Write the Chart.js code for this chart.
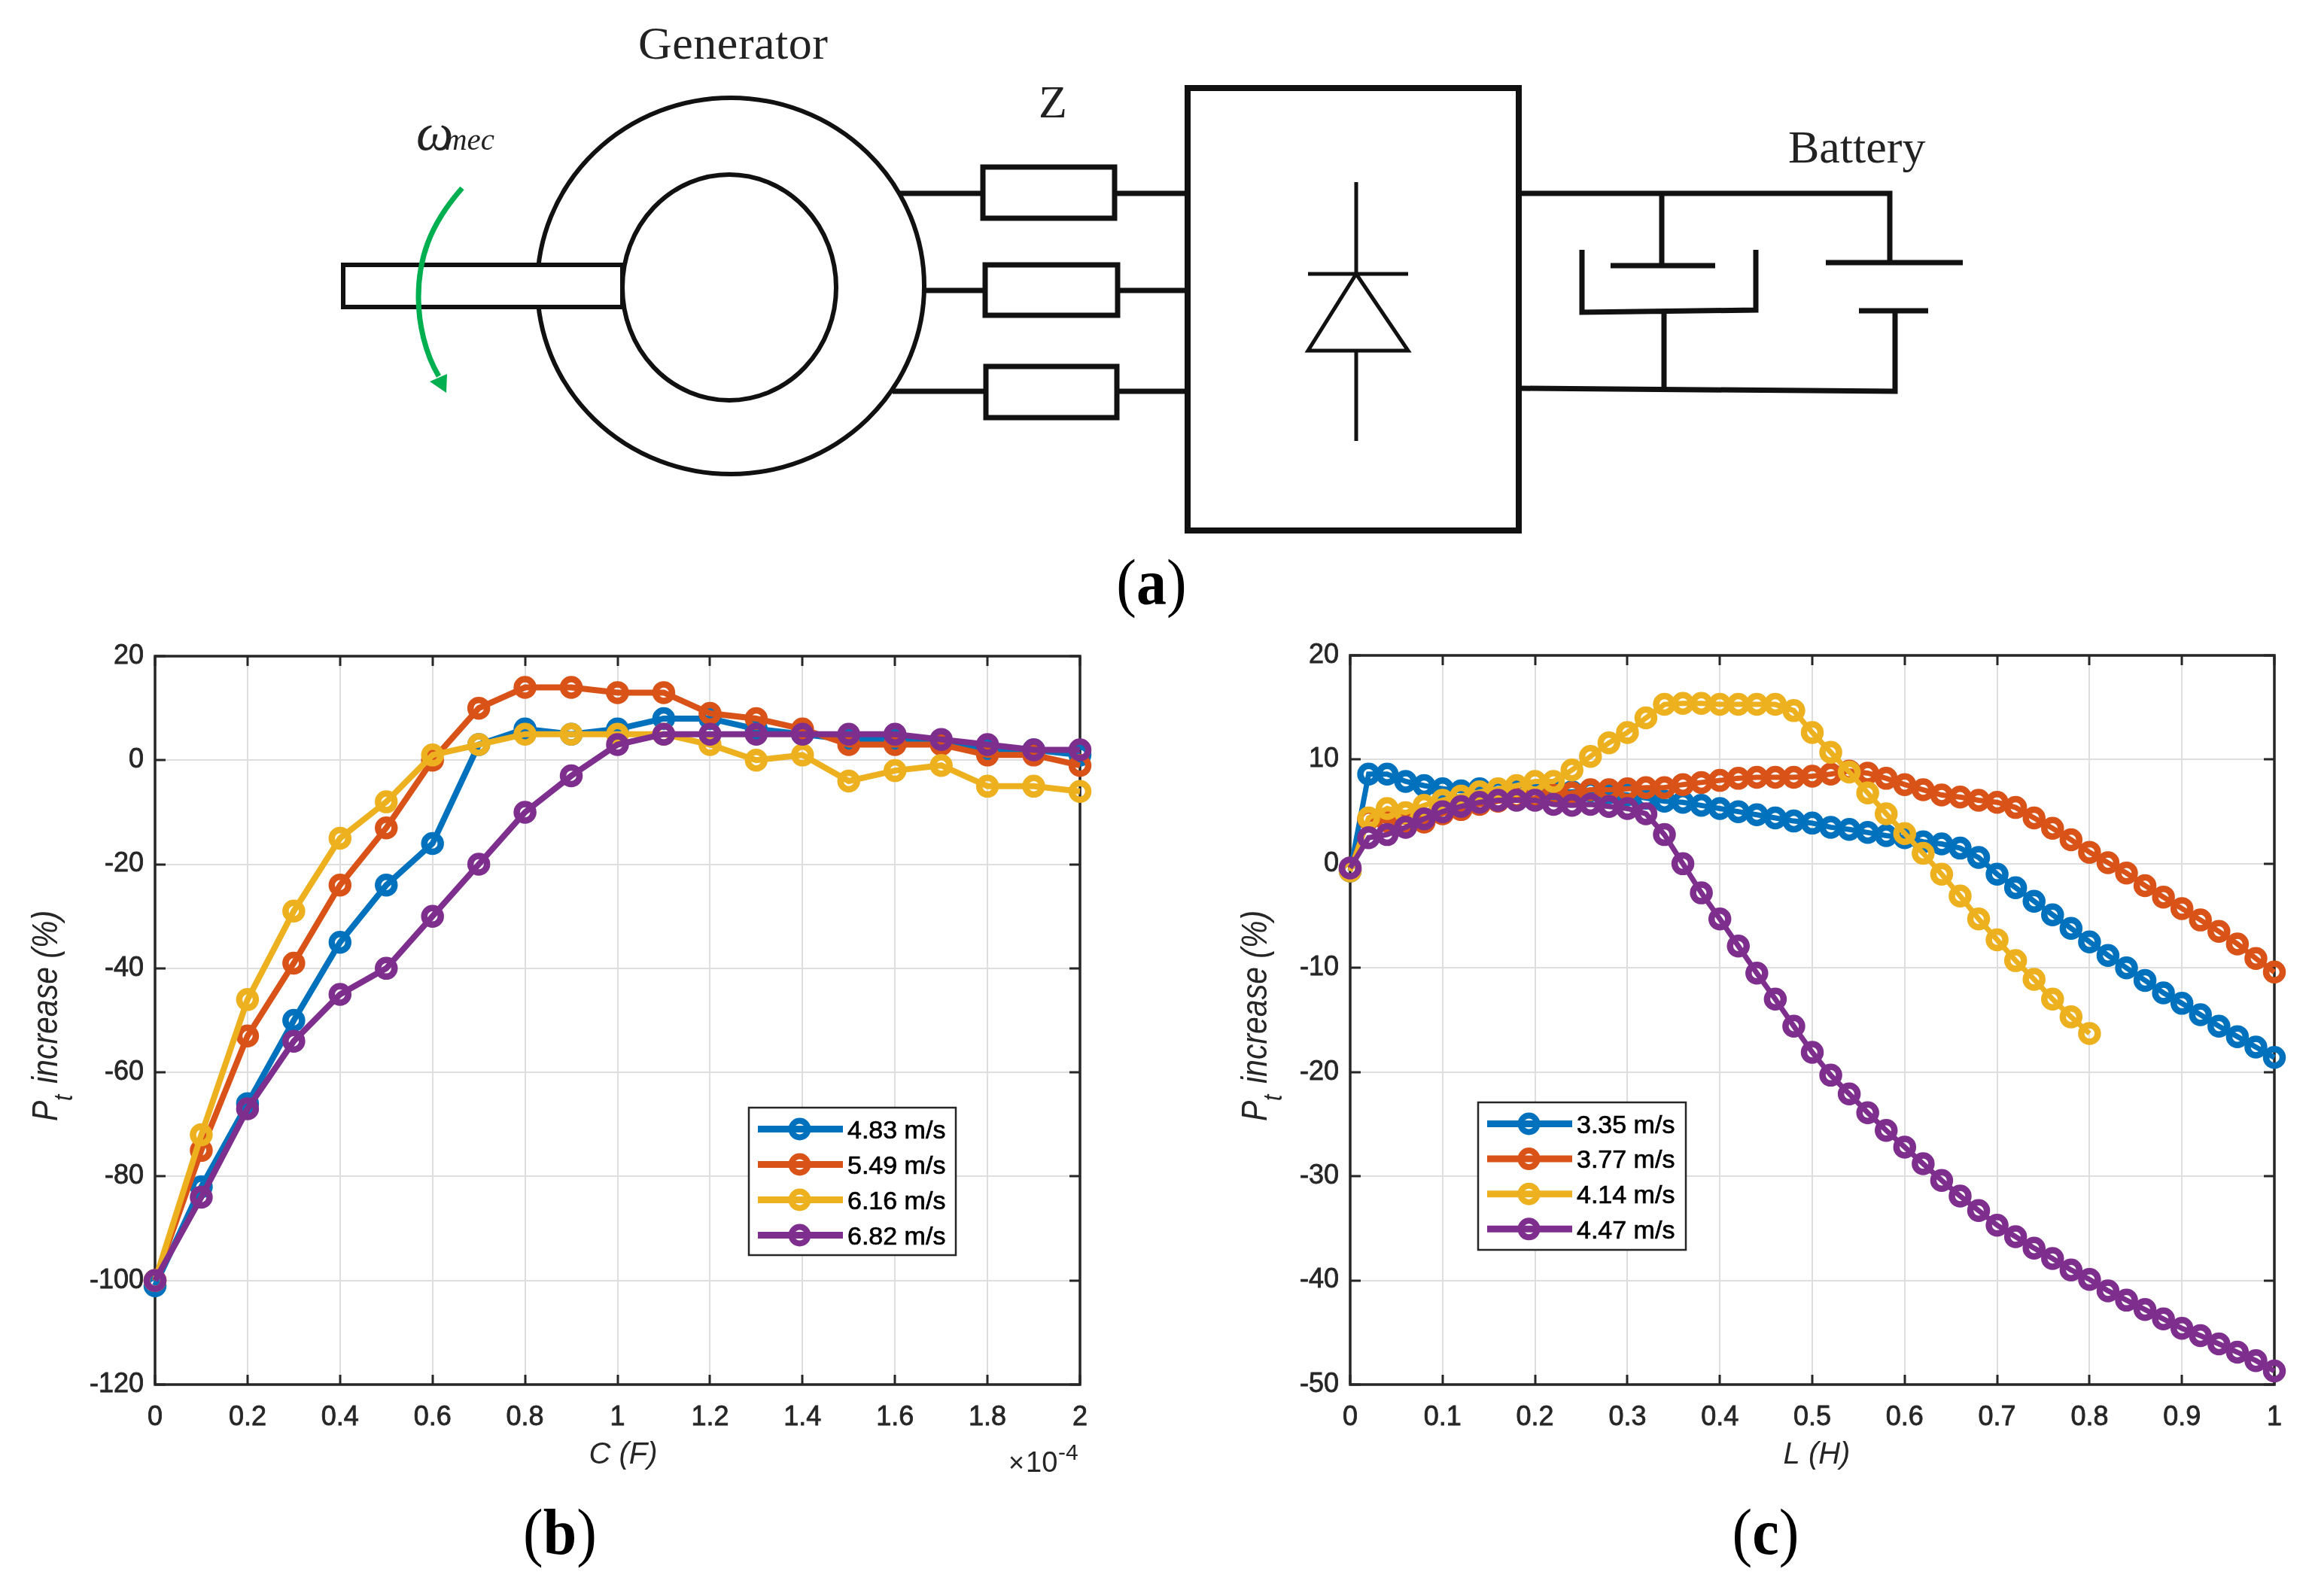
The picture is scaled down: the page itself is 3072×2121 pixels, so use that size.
<!DOCTYPE html>
<html>
<head>
<meta charset="utf-8">
<title>Generator, capacitance and inductance</title>
<script src="https://cdn.jsdelivr.net/npm/chart.js@4"></script>
<style>
  html, body { margin: 0; padding: 0; background: #fff; }
  #page { position: relative; width: 3072px; height: 2121px; overflow: hidden; }
  canvas { position: absolute; }
  #circuit { position: absolute; left: 0; top: 0; filter: blur(0.7px); }
  .tag { position: absolute; width: 200px; text-align: center; font-family: "Liberation Serif"; font-size: 80px; line-height: 100px; color: #000; transform: scaleY(1.08); }
  .tag b { font-weight: bold; }
</style>
</head>
<body>
<div id="page">
  <svg id="circuit" width="3072" height="830" fill="none" stroke="#111" stroke-width="7">
    <ellipse cx="971" cy="380" rx="257" ry="250" stroke-width="6"/>
    <ellipse cx="969" cy="382" rx="142" ry="150" stroke-width="6"/>
    <rect x="456" y="352" width="371" height="56" fill="#fff" stroke-width="6"/>
    <path d="M1194 257H1306M1229 386H1309M1186 520H1310"/>
    <path d="M1481 257H1578M1485 386H1578M1484 520H1578"/>
    <rect x="1306" y="222" width="175" height="68"/>
    <rect x="1309" y="352" width="176" height="67"/>
    <rect x="1310" y="487" width="174" height="68"/>
    <rect x="1578" y="117" width="440" height="588" stroke-width="8"/>
    <path d="M1802 242V364M1802 466V586M1738 364H1871M1802 364L1871 466H1738Z" stroke-width="5"/>
    <path d="M2018 257H2511V349M2426 349H2608M2470 413H2562M2518 413V520L2018 516"/>
    <path d="M2208 257V353M2140 353H2279M2102 332V415L2333 412V332M2211 414V518"/>
    <path d="M614 250C570 300 556 345 556 395C556 430 565 470 583 500" stroke="#00b050" stroke-width="7"/>
    <path d="M593 522L571 507L594 497Z" fill="#00b050" stroke="none"/>
    <g stroke="none" fill="#222" font-family="Liberation Serif" font-size="62">
      <text x="848" y="78" textLength="252">Generator</text>
      <text x="1380" y="156">Z</text>
      <text x="2376" y="216">Battery</text>
      <text x="553" y="199" font-size="70" font-style="italic">ω</text>
      <text x="591" y="199" font-size="41" font-style="italic">mec</text>
    </g>
  </svg>
  <div class="tag" style="left:1430px;top:724px">(<b>a</b>)</div>
  <div class="tag" style="left:644px;top:1986px">(<b>b</b>)</div>
  <div class="tag" style="left:2246px;top:1986px">(<b>c</b>)</div>
  <canvas id="capChart" width="1500" height="1301" style="left:0;top:820px"></canvas>
  <canvas id="indChart" width="1512" height="1301" style="left:1560px;top:820px"></canvas>
</div>
<script>
// series colours, same order in both plots
const seriesColors = ['#0072bd', '#d95319', '#edb120', '#7e2f8e'];

// plot (b)
const capNames = ['4.83 m/s', '5.49 m/s', '6.16 m/s', '6.82 m/s'];
const capX = [0, 0.1, 0.2, 0.3, 0.4, 0.5, 0.6, 0.7, 0.8, 0.9, 1, 1.1, 1.2, 1.3, 1.4, 1.5, 1.6, 1.7, 1.8, 1.9, 2];
const cap483 = [-101, -82, -66, -50, -35, -24, -16, 3, 6, 5, 6, 8, 8, 6, 5, 4, 4, 3.5, 2, 2, 1];
const cap549 = [-100, -75, -53, -39, -24, -13, 0, 10, 14, 14, 13, 13, 9, 8, 6, 3, 3, 3, 1, 1, -1];
const cap616 = [-100, -72, -46, -29, -15, -8, 1, 3, 5, 5, 5, 5, 3, 0, 1, -4, -2, -1, -5, -5, -6];
const cap682 = [-100, -84, -67, -54, -45, -40, -30, -20, -10, -3, 3, 5, 5, 5, 5, 5, 5, 4, 3, 2, 2];
const capXTicks = [0, 0.2, 0.4, 0.6, 0.8, 1, 1.2, 1.4, 1.6, 1.8, 2];
const capYTicks = [-120, -100, -80, -60, -40, -20, 0, 20];

// plot (c)
const indNames = ['3.35 m/s', '3.77 m/s', '4.14 m/s', '4.47 m/s'];
const indX = [0, 0.02, 0.04, 0.06, 0.08, 0.1, 0.12, 0.14, 0.16, 0.18, 0.2, 0.22, 0.24, 0.26, 0.28, 0.3, 0.32, 0.34, 0.36, 0.38, 0.4, 0.42, 0.44, 0.46, 0.48, 0.5, 0.52, 0.54, 0.56, 0.58, 0.6, 0.62, 0.64, 0.66, 0.68, 0.7, 0.72, 0.74, 0.76, 0.78, 0.8, 0.82, 0.84, 0.86, 0.88, 0.9, 0.92, 0.94, 0.96, 0.98, 1];
const ind335 = [-0.7, 8.6, 8.6, 7.9, 7.5, 7.2, 7, 7.2, 7, 7, 6.9, 6.9, 6.9, 7, 6.8, 6.6, 6.3, 6, 5.9, 5.6, 5.3, 5, 4.7, 4.4, 4.1, 3.9, 3.5, 3.3, 3, 2.7, 2.5, 2.1, 1.9, 1.5, 0.6, -1, -2.3, -3.6, -4.9, -6.2, -7.5, -8.8, -10, -11.2, -12.4, -13.4, -14.5, -15.6, -16.6, -17.6, -18.6];
const ind377 = [-0.5, 4.3, 4.1, 4, 4, 4.8, 5.2, 5.7, 6, 6.2, 6.3, 6.6, 6.8, 7.1, 7.1, 7.2, 7.3, 7.3, 7.6, 7.8, 8, 8.2, 8.3, 8.3, 8.3, 8.4, 8.6, 8.9, 8.7, 8.2, 7.6, 7.1, 6.6, 6.4, 6.1, 5.9, 5.4, 4.4, 3.4, 2.3, 1.1, 0.1, -0.9, -2.1, -3.2, -4.3, -5.4, -6.5, -7.7, -9.1, -10.4];
const ind414 = [-0.7, 4.4, 5.3, 4.9, 5.6, 6.1, 6.5, 6.9, 7.2, 7.5, 7.9, 7.9, 9, 10.3, 11.6, 12.6, 14, 15.3, 15.4, 15.4, 15.3, 15.3, 15.3, 15.3, 14.7, 12.6, 10.7, 8.8, 6.8, 4.8, 2.9, 1, -1, -3.1, -5.3, -7.3, -9.3, -11.1, -13, -14.7, -16.3];
const ind447 = [-0.4, 2.5, 2.8, 3.5, 4.3, 5, 5.5, 5.9, 6.1, 6.1, 6.1, 5.7, 5.6, 5.7, 5.5, 5.3, 4.8, 2.8, 0, -2.8, -5.3, -7.9, -10.5, -13, -15.6, -18.1, -20.3, -22.1, -23.9, -25.6, -27.2, -28.8, -30.4, -31.9, -33.3, -34.7, -35.8, -36.9, -37.9, -39, -39.9, -41, -41.9, -42.8, -43.7, -44.6, -45.3, -46.1, -46.9, -47.7, -48.7];
const indXTicks = [0, 0.1, 0.2, 0.3, 0.4, 0.5, 0.6, 0.7, 0.8, 0.9, 1];
const indYTicks = [-50, -40, -30, -20, -10, 0, 10, 20];

const SANS = '"Liberation Sans"';
const INK = '#262626';

// MATLAB style box: inward ticks on all four sides, titles and boxed legend
const matlabAxes = {
  id: 'matlabAxes',
  beforeDatasetsDraw(chart) {
    const ctx = chart.ctx;
    const a = chart.chartArea;
    ctx.save();
    ctx.strokeStyle = INK;
    ctx.lineWidth = 3;
    ctx.beginPath();
    chart.scales.x.ticks.forEach((t) => {
      const px = Math.round(chart.scales.x.getPixelForValue(t.value));
      ctx.moveTo(px, a.bottom); ctx.lineTo(px, a.bottom - 13);
      ctx.moveTo(px, a.top); ctx.lineTo(px, a.top + 13);
    });
    chart.scales.y.ticks.forEach((t) => {
      const py = Math.round(chart.scales.y.getPixelForValue(t.value));
      ctx.moveTo(a.left, py); ctx.lineTo(a.left + 14, py);
      ctx.moveTo(a.right, py); ctx.lineTo(a.right - 14, py);
    });
    ctx.stroke();
    ctx.lineWidth = 3.5;
    ctx.strokeRect(a.left, a.top, a.right - a.left, a.bottom - a.top);
    ctx.restore();
  },
  afterDatasetsDraw(chart, args, o) {
    const ctx = chart.ctx;
    const a = chart.chartArea;
    ctx.save();
    ctx.fillStyle = INK;
    ctx.textBaseline = 'alphabetic';

    // y title with subscript, drawn along the axis
    ctx.save();
    ctx.translate(a.left - o.yTitleGap, 670);
    ctx.rotate(-Math.PI / 2);
    ctx.scale(1, 1.15);
    ctx.textAlign = 'left';
    ctx.font = 'italic 41px ' + SANS;
    ctx.fillText('P', 0, 0);
    ctx.font = 'italic 30px ' + SANS;
    ctx.fillText('t', 27, 17);
    ctx.font = 'italic 41px ' + SANS;
    ctx.fillText('increase (%)', 50, 0);
    ctx.restore();

    // x title
    ctx.textAlign = 'center';
    ctx.font = 'italic 40px ' + SANS;
    ctx.fillText(o.xTitle, o.xTitleX, 1125);

    // axis exponent
    if (o.exponent) {
      ctx.textAlign = 'left';
      ctx.font = '36px ' + SANS;
      ctx.fillText('×', a.right - 95, 1136);
      ctx.font = '38px ' + SANS;
      ctx.fillText('10', a.right - 72, 1136);
      ctx.font = '30px ' + SANS;
      ctx.fillText(o.exponent, a.right - 29, 1120);
    }

    // legend
    const lg = o.legend;
    ctx.fillStyle = '#fff';
    ctx.strokeStyle = INK;
    ctx.lineWidth = 2.5;
    ctx.fillRect(lg.x, lg.y, lg.w, lg.h);
    ctx.strokeRect(lg.x, lg.y, lg.w, lg.h);
    ctx.textAlign = 'left';
    ctx.textBaseline = 'middle';
    ctx.font = '34px ' + SANS;
    o.names.forEach((name, i) => {
      const y = lg.y + 28.5 + i * lg.step;
      ctx.strokeStyle = seriesColors[i];
      ctx.lineWidth = 9;
      ctx.beginPath();
      ctx.moveTo(lg.x + 12, y);
      ctx.lineTo(lg.x + 125, y);
      ctx.stroke();
      ctx.lineWidth = 8;
      ctx.beginPath();
      ctx.arc(lg.x + 67.5, y, 11, 0, Math.PI * 2);
      ctx.stroke();
      ctx.fillStyle = '#000';
      ctx.strokeStyle = '#000';
      ctx.lineWidth = 0.7;
      ctx.fillText(name, lg.x + 131, y + 3);
      ctx.strokeText(name, lg.x + 131, y + 3);
    });
    ctx.restore();
  }
};

function pairs(xs, ys) {
  return ys.map((y, i) => ({ x: xs[i], y: y }));
}

function buildDataset(name, xs, ys, i, lineWidth) {
  return {
    label: name,
    data: pairs(xs, ys),
    borderColor: seriesColors[i],
    backgroundColor: 'transparent',
    borderWidth: lineWidth,
    pointRadius: 11,
    pointBorderWidth: 8.5,
    pointBorderColor: seriesColors[i],
    pointBackgroundColor: 'transparent',
    tension: 0,
    clip: false,
    order: 3 - i
  };
}

function buildPlot(id, datasets, xTicks, yTicks, pad, titles) {
  const tickFont = { family: SANS, size: 36 };
  new Chart(document.getElementById(id), {
    type: 'line',
    data: { datasets: datasets },
    plugins: [matlabAxes],
    options: {
      responsive: false,
      animation: false,
      devicePixelRatio: 1,
      layout: { padding: { top: pad.top, right: pad.right, left: 0, bottom: 0 } },
      plugins: { legend: { display: false }, tooltip: { enabled: false }, matlabAxes: titles },
      scales: {
        x: {
          type: 'linear',
          min: xTicks[0],
          max: xTicks[xTicks.length - 1],
          afterBuildTicks: (s) => { s.ticks = xTicks.map((v) => ({ value: v })); },
          afterFit: (s) => { s.height = pad.xAxis; },
          border: { display: false },
          grid: { color: '#dedede', lineWidth: 2, drawTicks: false },
          ticks: { font: tickFont, color: INK, textStrokeColor: INK, textStrokeWidth: 0.8, padding: 22, maxRotation: 0, autoSkip: false, callback: (v) => String(v) }
        },
        y: {
          type: 'linear',
          min: yTicks[0],
          max: yTicks[yTicks.length - 1],
          afterBuildTicks: (s) => { s.ticks = yTicks.map((v) => ({ value: v })); },
          afterFit: (s) => { s.width = pad.yAxis; },
          border: { display: false },
          grid: { color: '#dedede', lineWidth: 2, drawTicks: false },
          ticks: { font: tickFont, color: INK, textStrokeColor: INK, textStrokeWidth: 0.8, padding: 15, autoSkip: false, callback: (v) => String(v) }
        }
      }
    }
  });
}

buildPlot('capChart',
  [cap483, cap549, cap616, cap682].map((ys, i) => buildDataset(capNames[i], capX, ys, i, 8)),
  capXTicks, capYTicks,
  { top: 52, right: 65, yAxis: 206, xAxis: 281 },
  {
    names: capNames,
    xTitle: 'C (F)',
    xTitleX: 828,
    exponent: '-4',
    yTitleGap: 130,
    legend: { x: 995, y: 652, w: 275, h: 196, step: 47 }
  });

buildPlot('indChart',
  [ind335, ind377, ind414, ind447].map((ys, i) => buildDataset(indNames[i], indX, ys, i, 7)),
  indXTicks, indYTicks,
  { top: 51, right: 50, yAxis: 234, xAxis: 281 },
  {
    names: indNames,
    xTitle: 'L (H)',
    xTitleX: 854,
    exponent: '',
    yTitleGap: 111,
    legend: { x: 404, y: 645, w: 276, h: 196, step: 46.6 }
  });
</script>
</body>
</html>
